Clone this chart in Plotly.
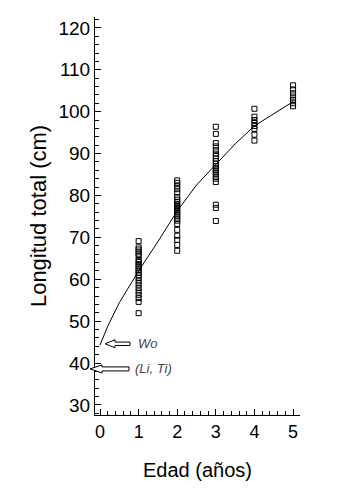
import plotly.graph_objects as go

# ---- data ----
age1 = [69.1, 67.6, 67.1, 66.6, 66.1, 65.6, 64.6, 64.1, 63.6, 63.1, 62.6, 62.1, 61.6,
        61.0, 60.3, 59.5, 58.7, 57.9, 57.1, 56.3, 55.5, 54.6, 51.9]
age2 = [83.6, 83.0, 82.2, 81.5, 80.7, 79.6, 79.0, 78.5, 78.0, 77.5, 77.0, 76.5, 76.0,
        75.5, 75.0, 74.5, 74.0, 73.2, 71.8, 70.4, 69.4, 68.2, 66.8]
age3 = [96.4, 94.7, 92.5, 91.7, 90.8, 90.0, 89.4, 88.8, 88.2, 87.6, 87.0, 86.5, 86.0,
        85.5, 85.0, 84.5, 84.0, 83.2, 77.8, 77.0, 73.9]
age4 = [100.7, 98.8, 98.0, 97.3, 96.6, 95.9, 94.5, 93.1]
age5 = [106.3, 105.3, 104.4, 103.6, 102.8, 102.0, 101.3]

curve_x = [0, 0.2, 0.5, 1.0, 1.5, 2.0, 2.5, 3.0, 3.5, 4.0, 4.5, 5.0]
curve_y = [44.3, 48.8, 54.4, 62.0, 69.0, 76.3, 82.5, 87.3, 92.3, 96.6, 99.5, 102.4]

wo_value = 44.6
li_value = 38.6

x_ticks = [0, 1, 2, 3, 4, 5]
y_ticks = [30, 40, 50, 60, 70, 80, 90, 100, 110, 120]

x_range = [-0.13, 5.18]
y_range = [27.6, 122.6]

FONT = "Arial, Liberation Sans, sans-serif"

xs, ys = [], []
for a, vals in zip([1, 2, 3, 4, 5], [age1, age2, age3, age4, age5]):
    xs += [a] * len(vals)
    ys += vals

fig = go.Figure()
fig.add_trace(go.Scatter(x=xs, y=ys, mode="markers",
                         marker=dict(symbol="square-open", size=5, color="black",
                                     line=dict(width=1, color="black")),
                         showlegend=False, hoverinfo="skip"))
fig.add_trace(go.Scatter(x=curve_x, y=curve_y, mode="lines",
                         line=dict(color="black", width=1),
                         showlegend=False, hoverinfo="skip"))

def arrow_path(head_len, head_half, shaft_half, total):
    return (f"M0,0 L{head_len},{head_half} L{head_len},{shaft_half} "
            f"L{total},{shaft_half} L{total},{-shaft_half} L{head_len},{-shaft_half} "
            f"L{head_len},{-head_half} Z")

# Wo arrow (tip just right of x=0)
fig.add_shape(type="path", xref="x", yref="y", xsizemode="pixel", ysizemode="pixel",
              xanchor=0.13, yanchor=wo_value,
              path=arrow_path(10, 4, 1.7, 25),
              line=dict(color="black", width=1), fillcolor="white", layer="above")

# (Li, Ti) arrow: tip crosses the y axis
tip_paper = -5 / 205
fig.add_shape(type="path", xref="paper", yref="y", xsizemode="pixel", ysizemode="pixel",
              xanchor=tip_paper, yanchor=li_value,
              path=arrow_path(12, 4, 2, 39),
              line=dict(color="black", width=1), fillcolor="white", layer="above")

fig.add_annotation(x=0.93, y=wo_value, xref="x", yref="y", text="<i>Wo</i>",
                   showarrow=False, xanchor="left", yanchor="middle",
                   font=dict(family=FONT, size=13, color="#444"))
fig.add_annotation(x=0.85, y=li_value, xref="x", yref="y", text="<i>(Li, Ti)</i>",
                   showarrow=False, xanchor="left", yanchor="middle",
                   font=dict(family=FONT, size=13, color="#444"))

# the page adds an 8px body margin, so the figure is shifted by 8px
fig.update_layout(
    width=339, height=482,
    margin=dict(l=87, r=47, t=9, b=75),
    paper_bgcolor="white", plot_bgcolor="white",
    font=dict(family=FONT, color="black"),
    xaxis=dict(range=x_range, tickvals=x_ticks, ticktext=[str(v) for v in x_ticks],
               showgrid=False, zeroline=False, showline=True, linecolor="black",
               linewidth=1, ticks="inside", ticklen=6, tickcolor="black",
               minor=dict(dtick=0.2, ticks="inside", ticklen=4, tickcolor="black",
                          showgrid=False),
               tickfont=dict(size=18, family=FONT),
               title=dict(text="Edad (años)", font=dict(size=20, family=FONT), standoff=22),
               automargin=False),
    yaxis=dict(range=y_range, tickvals=y_ticks, ticktext=[str(v) for v in y_ticks],
               showgrid=False, zeroline=False, showline=True, linecolor="black",
               linewidth=1, ticks="inside", ticklen=6, tickcolor="black",
               minor=dict(dtick=2, ticks="inside", ticklen=4, tickcolor="black",
                          showgrid=False),
               tickfont=dict(size=19, family=FONT),
               title=dict(text="Longitud total (cm)", font=dict(size=22, family=FONT),
                          standoff=5),
               automargin=False),
)

fig.write_html("out.html")
